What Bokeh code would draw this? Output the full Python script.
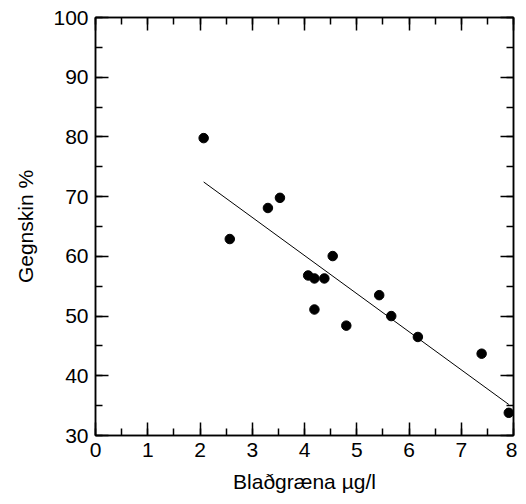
import numpy as np
from bokeh.plotting import figure
from bokeh.models import Range1d, LinearAxis, SingleIntervalTicker, CustomJSTickFormatter
from bokeh.embed import file_html
from bokeh.resources import INLINE

# Data
chlorophyll = [2.07, 2.57, 3.30, 3.53, 4.07, 4.19, 4.38, 4.54, 4.19, 4.80, 5.43, 5.66, 6.17, 7.39, 7.91]
transparency = [79.8, 62.9, 68.1, 69.8, 56.8, 56.3, 56.3, 60.05, 51.1, 48.4, 53.5, 50.0, 46.5, 43.7, 33.8]

x_label = "Blaðgræna µg/l"
y_label = "Gegnskin %"

FONT = "Liberation Sans"
FS = "21px"

p = figure(frame_width=418, frame_height=418, output_backend="svg", toolbar_location=None,
           x_range=Range1d(0, 8), y_range=Range1d(30, 100),
           min_border_left=95, min_border_top=17, min_border_right=4, min_border_bottom=4,
           x_axis_label=x_label, y_axis_label=y_label)
p.xgrid.visible = False
p.ygrid.visible = False
p.outline_line_color = "black"
p.outline_line_width = 1.5
p.background_fill_color = "white"
p.border_fill_color = "white"

p.xaxis.ticker = SingleIntervalTicker(interval=1, num_minor_ticks=2)
p.yaxis.ticker = SingleIntervalTicker(interval=10, num_minor_ticks=2)


def style(ax):
    ax.axis_line_color = "black"
    ax.axis_line_width = 1.5
    ax.major_tick_line_color = "black"
    ax.major_tick_line_width = 1.5
    ax.minor_tick_line_color = "black"
    ax.minor_tick_line_width = 1.5
    ax.major_tick_in = 13
    ax.major_tick_out = 0
    ax.minor_tick_in = 7
    ax.minor_tick_out = 0
    ax.major_label_text_font = FONT
    ax.major_label_text_font_size = FS
    ax.major_label_text_color = "black"
    ax.axis_label_text_font = FONT
    ax.axis_label_text_font_size = FS
    ax.axis_label_text_font_style = "normal"
    ax.axis_label_text_color = "black"


for ax in p.xaxis:
    style(ax)
    ax.major_label_standoff = 7
    ax.axis_label_standoff = 10
for ax in p.yaxis:
    style(ax)
    ax.major_label_standoff = 7
    ax.axis_label_standoff = 13

blank = CustomJSTickFormatter(code="return '';")
top = LinearAxis(ticker=SingleIntervalTicker(interval=1, num_minor_ticks=2), formatter=blank)
style(top)
top.major_label_standoff = 0
p.add_layout(top, "above")
right = LinearAxis(ticker=SingleIntervalTicker(interval=10, num_minor_ticks=2), formatter=blank)
style(right)
right.major_label_standoff = 0
p.add_layout(right, "right")

# regression line
xs = np.array(chlorophyll)
ys = np.array(transparency)
slope, intercept = np.polyfit(xs, ys, 1)
fx = np.array([xs.min(), xs.max()])
p.line(fx, intercept + slope * fx, line_color="black", line_width=1)

p.scatter(chlorophyll, transparency, size=9.5, marker="circle", fill_color="black", line_color="black")

open("out.html", "w").write(file_html(p, INLINE))
